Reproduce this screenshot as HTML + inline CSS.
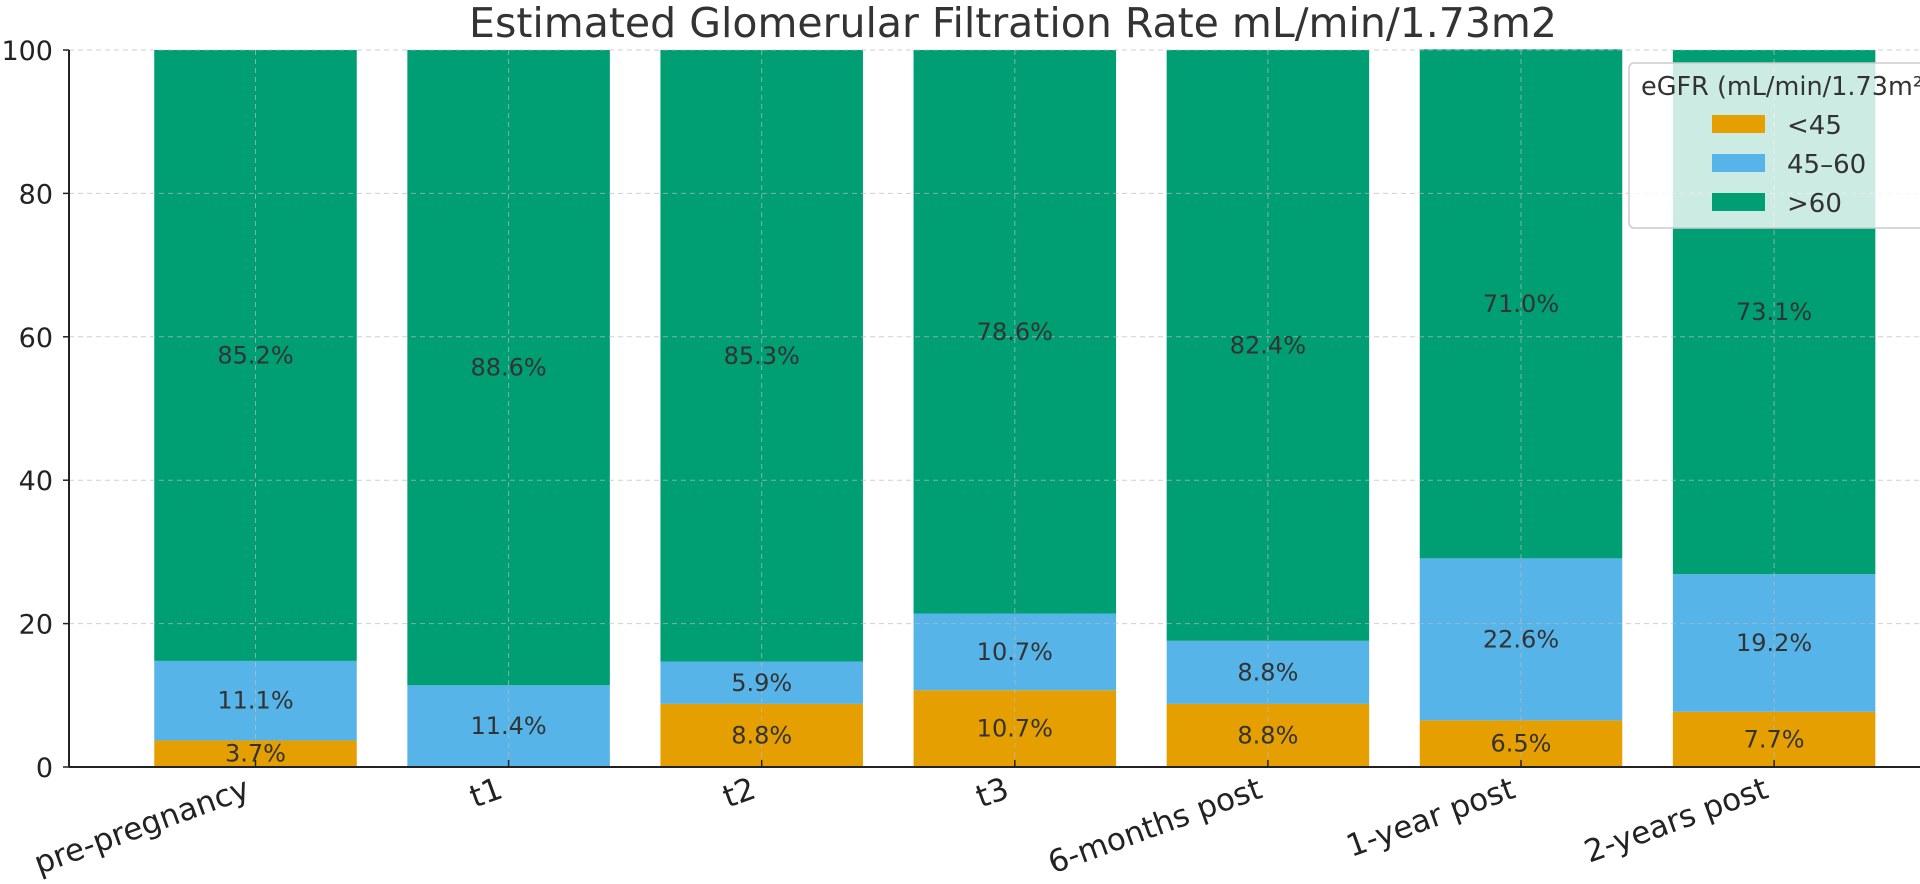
<!DOCTYPE html>
<html><head><meta charset="utf-8"><style>
html,body{margin:0;padding:0;background:#fff;}
svg{display:block;font-family:"DejaVu Sans","Liberation Sans",sans-serif;}
</style></head><body>
<svg id="chart" width="1920" height="884" viewBox="0 0 1920 884">
<text x="1013" y="37" text-anchor="middle" font-size="41" fill="#333">Estimated Glomerular Filtration Rate mL/min/1.73m2</text>
<g id="bars"></g>
<g id="grid"></g>
<g id="labels"></g>
<g id="axes"></g>
<g>
<rect x="1629" y="63" width="300" height="165" rx="5" fill="#fff" fill-opacity="0.8" stroke="#ccc" stroke-width="1.5"/>
<text x="1641" y="95" font-size="25.5" fill="#333">eGFR (mL/min/1.73m²)</text>
<g><rect x="1712" y="115" width="53" height="18" fill="#E69F00"/><text x="1787" y="134" font-size="26" fill="#333">&lt;45</text></g>
<g><rect x="1712" y="154" width="53" height="18" fill="#56B4E9"/><text x="1787" y="173" font-size="26" fill="#333">45–60</text></g>
<g><rect x="1712" y="193" width="53" height="18" fill="#009E73"/><text x="1787" y="212" font-size="26" fill="#333">&gt;60</text></g>
</g>
</svg>
<script>
const categories = ["pre-pregnancy","t1","t2","t3","6-months post","1-year post","2-years post"];
const lt45 = [3.7,0,8.8,10.7,8.8,6.5,7.7];
const mid = [11.1,11.4,5.9,10.7,8.8,22.6,19.2];
const gt60 = [85.2,88.6,85.3,78.6,82.4,71.0,73.1];
const yTicks = [0,20,40,60,80,100];

const NS="http://www.w3.org/2000/svg";
const X0=69, Y0=767, YT=50, STEP=253.1, C0=255.5, BW=202.5;
const xPos=i=>C0+i*STEP;
const yPos=v=>Y0-(v/100)*(Y0-YT);
function mk(tag,attrs,parent){const e=document.createElementNS(NS,tag);for(const k in attrs)e.setAttribute(k,attrs[k]);parent.appendChild(e);return e;}
const gB=document.getElementById('bars'),gG=document.getElementById('grid'),gL=document.getElementById('labels'),gA=document.getElementById('axes');
const series=[[lt45,"#E69F00","lt45"],[mid,"#56B4E9","45-60"],[gt60,"#009E73","gt60"]];
categories.forEach((c,i)=>{
  let base=0;
  series.forEach(([arr,col,nm])=>{
    const v=arr[i];
    if(v>0){
      const r=mk('rect',{x:xPos(i)-BW/2,y:yPos(base+v),width:BW,height:yPos(base)-yPos(base+v),fill:col},gB);
      
      
      const t=mk('text',{x:xPos(i),y:(yPos(base)+yPos(base+v))/2+8,'text-anchor':'middle','font-size':24,fill:'#333'},gL);
      t.textContent=v.toFixed(1)+'%';
      
      
    }
    base+=v;
  });
  const gl=mk('line',{x1:xPos(i),x2:xPos(i),y1:YT,y2:Y0,stroke:'#bbb','stroke-width':1,'stroke-dasharray':'5,4','stroke-opacity':0.7},gG);
  
  
  const tk=mk('line',{x1:xPos(i),x2:xPos(i),y1:Y0,y2:Y0-7,stroke:'#222','stroke-width':1.5},gA);
  
  
  const lx=xPos(i)-4, ly=Y0+30;
  const xl=mk('text',{x:lx,y:ly,'text-anchor':'end','font-size':31,fill:'#222',transform:`rotate(-20 ${lx} ${ly})`},gA);
  xl.textContent=c;
  
  
});
yTicks.forEach(v=>{
  const gl=mk('line',{x1:X0,x2:1920,y1:yPos(v),y2:yPos(v),stroke:'#bbb','stroke-width':1,'stroke-dasharray':'5,4','stroke-opacity':0.7},gG);
  
  
  const tk=mk('line',{x1:X0-6,x2:X0,y1:yPos(v),y2:yPos(v),stroke:'#222','stroke-width':1.5},gA);
  
  
  const t=mk('text',{x:X0-16,y:yPos(v)+10,'text-anchor':'end','font-size':27,fill:'#222'},gA);
  t.textContent=v;
  
  
});
const ya=mk('line',{x1:X0,x2:X0,y1:YT,y2:Y0,stroke:'#222','stroke-width':2},gA);


const xa=mk('line',{x1:X0,x2:1920,y1:Y0,y2:Y0,stroke:'#222','stroke-width':2},gA);


</script>
</body></html>
